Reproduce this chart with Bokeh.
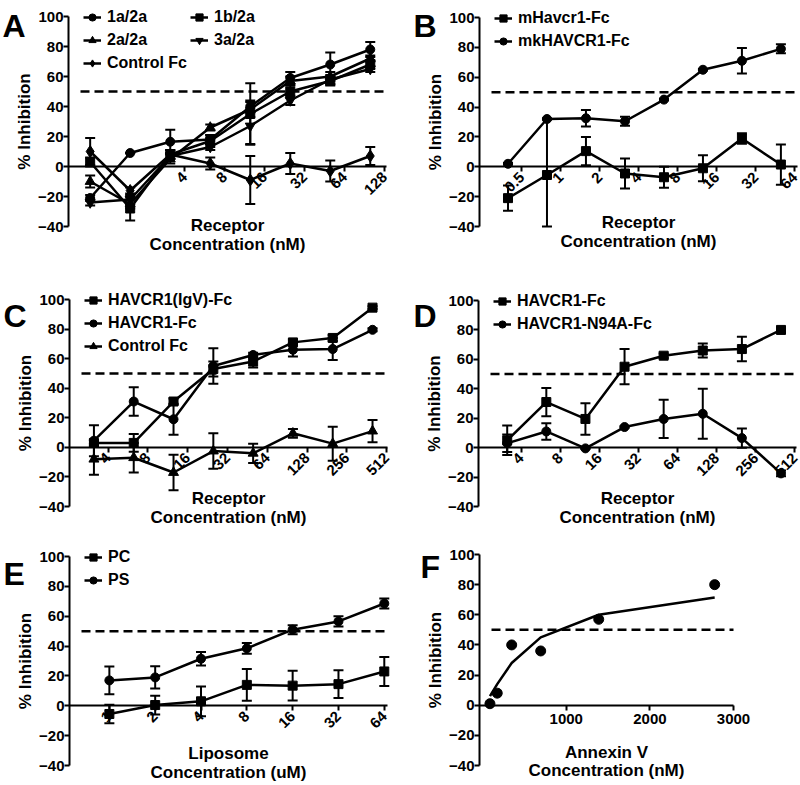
import math
from bokeh.plotting import figure
from bokeh.layouts import column, row
from bokeh.models import (Range1d, FixedTicker, Legend, LegendItem, Label,
                          CustomJSTickFormatter)
from bokeh.embed import file_html
from bokeh.resources import INLINE

FONT = "Liberation Sans"

# ---------------- data ----------------
# Panel A
a_conc = [0.78, 1.56, 3.125, 6.25, 12.5, 25, 50, 100]
a_1a2a = [-21, 9, 16.5, 18, 40, 59, 68, 78]
a_1a2a_err = [2, 0, 8, 3, 4, 4, 8, 5]
a_1b2a = [3, -28, 8, 17, 35, 50, 57, 68]
a_1b2a_err = [3, 8, 3, 4, 20.5, 4, 3, 3]
a_2a2a = [-10, -25, 5, 26, 38, 57, 60, 72]
a_2a2a_err = [4, 3, 3, 2, 5, 3, 3, 2]
a_3a2a = [-24, -22, 7, 13, 27, 44, 58, 65]
a_3a2a_err = [2, 3, 2, 2, 12, 3, 3, 2]
a_ctrl = [10, -16, 8, 2, -9, 2, -3, 7]
a_ctrl_err = [9, 2, 3, 4, 16, 7, 7, 6]
a_ticks = [4, 8, 16, 32, 64, 128]

# Panel B
b_conc = [0.39, 0.78, 1.56, 3.125, 6.25, 12.5, 25, 50]
b_mhav = [-21, -5.5, 10.5, -4.5, -7, -1, 19, 1.5]
b_mhav_err_lo = [8.5, 34.5, 9.5, 10, 7, 8.7, 3.5, 13.5]
b_mhav_err_hi = [8.5, 37.5, 9.5, 10, 7, 8.7, 3.5, 13.5]
b_mkhav = [2, 32, 32.5, 30.5, 45, 65, 71, 79]
b_mkhav_err = [0.5, 0.5, 5.5, 3, 0.5, 0.5, 8.5, 3]
b_ticks = [0.5, 1, 2, 4, 8, 16, 32, 64]

# Panel C
c_conc = [3.125, 6.25, 12.5, 25, 50, 100, 200, 400]
c_igv = [3, 3, 31, 53, 58, 71, 74, 94.5]
c_igv_err = [2, 6, 2, 5, 4, 2, 2, 1]
c_hav = [4.5, 31, 19, 55, 62.5, 66, 66.5, 79.5]
c_hav_err = [10.5, 9.6, 10.5, 12, 1.5, 4.5, 7.5, 1]
c_ctrl = [-8, -7, -17, -2.5, -4, 9.5, 2.5, 11]
c_ctrl_err = [10.5, 10, 12, 12, 6.5, 3, 11.5, 7.5]
c_ticks = [4, 8, 16, 32, 64, 128, 256, 512]

# Panel D
d_conc = [3.125, 6.25, 12.5, 25, 50, 100, 200, 400]
d_hav = [5, 31, 19.5, 55, 62.5, 66, 67, 80]
d_hav_err = [10, 9.6, 10.7, 12, 1.5, 4.7, 8.3, 1]
d_n94a = [3, 11, -0.5, 14, 19.5, 23, 6.5, -17.5]
d_n94a_err = [6, 5.6, 0.5, 0.5, 13, 17, 6.5, 2]
d_ticks = [4, 8, 16, 32, 64, 128, 256, 512]

# Panel E
e_conc = [1, 2, 4, 8, 16, 32, 64]
e_pc = [-5.5, 0.5, 3, 14, 13.5, 14.5, 23]
e_pc_err = [6.2, 6.3, 10, 10.7, 10, 9.3, 9.7]
e_ps = [17, 19, 31.5, 38.5, 51, 56.5, 68.5]
e_ps_err = [9.3, 7.5, 4.5, 3.6, 3, 3.4, 3.4]
e_ticks = [1, 2, 4, 8, 16, 32, 64]

# Panel F
f_conc = [87, 174, 347, 694, 1388, 2775]
f_inh = [1, 8, 40, 36, 57, 80]
f_fit = [6, 14, 28, 45, 60, 71.5]
f_ticks = [1000, 2000, 3000]

y_ticks = [-40, -20, 0, 20, 40, 60, 80, 100]
y_lo, y_hi = -40, 100
threshold = 50


class Panel:
    def __init__(self, W, H, L, fw, top, fh, xlo, xhi, log, xticks, xlabel, rotate,
                 xstand, letter, letter_x, letter_base):
        self.log = log
        self.L, self.fw, self.top, self.W, self.H = L, fw, top, W, H
        if log:
            a, b = math.log2(xlo), math.log2(xhi)
        else:
            a, b = xlo, xhi
        self.a, self.k = a, (b - a) / fw
        self.ky = (y_hi - y_lo) / fh
        p = figure(width=W, height=H, min_border=0,
                   x_axis_type="log" if log else "linear",
                   x_range=Range1d(self.px2x(0), self.px2x(W)),
                   y_range=Range1d(self.py2y(H), self.py2y(0)),
                   output_backend="svg", toolbar_location=None)
        p.outline_line_color = None
        p.grid.visible = False
        p.background_fill_color = "white"
        p.border_fill_color = "white"
        for ax in (p.xaxis[0], p.yaxis[0]):
            ax.axis_line_width = 2
            ax.axis_line_color = "black"
            ax.major_tick_line_width = 2
            ax.major_tick_line_color = "black"
            ax.major_tick_out = 5
            ax.major_tick_in = 0
            ax.minor_tick_line_color = None
            ax.major_label_text_font = FONT
            ax.major_label_text_font_style = "bold"
            ax.major_label_text_font_size = "15px"
            ax.major_label_text_color = "black"
            ax.axis_label_text_font = FONT
            ax.axis_label_text_font_style = "bold"
            ax.axis_label_text_font_size = "17px"
            ax.axis_label_text_color = "black"
        ya = p.yaxis[0]
        ya.fixed_location = xlo
        ya.bounds = (y_lo, y_hi)
        ya.ticker = FixedTicker(ticks=y_ticks)
        ya.axis_label = "% Inhibition"
        ya.major_label_standoff = 0
        ya.axis_label_standoff = 1
        xa = p.xaxis[0]
        xa.fixed_location = 0
        xa.bounds = (xlo, xhi)
        xa.ticker = FixedTicker(ticks=xticks)
        if log:
            xa.formatter = CustomJSTickFormatter(code="return String(tick)")
        if rotate:
            xa.major_label_orientation = math.pi / 4
            xa.major_label_standoff = 3
        else:
            xa.major_label_standoff = 4
        xa.axis_label_standoff = xstand
        xa.axis_label = xlabel
        xa.axis_label_text_line_height = 0.98
        # 50 % threshold line
        p.segment(x0=[self.px2x(L + 12)], y0=[threshold], x1=[xhi], y1=[threshold],
                  line_color="black", line_width=2.5, line_dash="9 5")
        # panel letter
        p.add_layout(Label(x=self.px2x(letter_x), y=self.py2y(letter_base), text=letter,
                           text_font=FONT, text_font_style="bold", text_font_size="32px",
                           text_baseline="alphabetic", text_align="left",
                           text_color="black"))
        self.p = p

    def px2x(self, px):
        v = self.a + (px - self.L) * self.k
        return 2 ** v if self.log else v

    def py2y(self, py):
        return y_hi - (py - self.top) * self.ky

    def series(self, x, y, err_lo, err_hi, marker, size):
        p = self.p
        rl = p.line(x, y, line_width=2.5, line_color="black")
        rp = p.scatter(x, y, marker=marker, size=size, fill_color="black",
                       line_color="black")
        if err_lo is not None:
            lo = [v - e for v, e in zip(y, err_lo)]
            hi = [v + e for v, e in zip(y, err_hi)]
            p.segment(x0=x, y0=lo, x1=x, y1=hi, line_width=2, line_color="black")
            p.scatter(x, lo, marker="dash", size=10, line_width=2, line_color="black")
            p.scatter(x, hi, marker="dash", size=10, line_width=2, line_color="black")
        return [rl, rp]

    def legend(self, items, ncols, nrows):
        Hl = nrows * 20 + (nrows - 1) * 3
        top_px = self.top + 1 - 10
        leg = Legend(items=[LegendItem(label=l, renderers=r) for l, r in items],
                     location=(self.L + 15, self.H - top_px - Hl),
                     orientation="horizontal", ncols=ncols,
                     glyph_width=18, glyph_height=20, label_height=20, spacing=3,
                     padding=0, margin=0, label_standoff=6,
                     background_fill_alpha=0, border_line_alpha=0,
                     label_text_font=FONT, label_text_font_style="bold",
                     label_text_font_size="16px", label_text_color="black")
        self.p.add_layout(leg)


rec_label = "Receptor\nConcentration (nM)"

# row 1: canvas height 275
A = Panel(400, 275, 68, 318, 16, 210, 2 ** -0.9, 2 ** 7.05, True, a_ticks, rec_label,
          True, 14, "A", 2, 25)
A.legend([("1a/2a", A.series(a_conc, a_1a2a, a_1a2a_err, a_1a2a_err, "circle", 9)),
          ("1b/2a", A.series(a_conc, a_1b2a, a_1b2a_err, a_1b2a_err, "square", 9)),
          ("2a/2a", A.series(a_conc, a_2a2a, a_2a2a_err, a_2a2a_err, "triangle", 10)),
          ("3a/2a", A.series(a_conc, a_3a2a, a_3a2a_err, a_3a2a_err, "inverted_triangle", 10)),
          ("Control Fc", A.series(a_conc, a_ctrl, a_ctrl_err, a_ctrl_err, "diamond", 12))],
         2, 3)

B = Panel(400, 275, 79, 318, 17, 209, 2 ** -2.09, 2 ** 6.07, True, b_ticks, rec_label,
          True, 14, "B", 13, 25)
B.legend([("mHavcr1-Fc", B.series(b_conc, b_mhav, b_mhav_err_lo, b_mhav_err_hi, "square", 9)),
          ("mkHAVCR1-Fc", B.series(b_conc, b_mkhav, b_mkhav_err, b_mkhav_err, "circle", 9))],
         1, 2)

# row 2: canvas height 255
C = Panel(400, 255, 69, 318, 24, 207, 2 ** 1.03, 2 ** 9.02, True, c_ticks, rec_label,
          True, 6, "C", 3, 40)
C.legend([("HAVCR1(IgV)-Fc", C.series(c_conc, c_igv, c_igv_err, c_igv_err, "square", 9)),
          ("HAVCR1-Fc", C.series(c_conc, c_hav, c_hav_err, c_hav_err, "circle", 9)),
          ("Control Fc", C.series(c_conc, c_ctrl, c_ctrl_err, c_ctrl_err, "triangle", 10))],
         1, 3)

D = Panel(400, 255, 78, 318, 25, 206, 2 ** 0.91, 2 ** 9.04, True, d_ticks, rec_label,
          True, 6, "D", 13, 40)
D.legend([("HAVCR1-Fc", D.series(d_conc, d_hav, d_hav_err, d_hav_err, "square", 9)),
          ("HAVCR1-N94A-Fc", D.series(d_conc, d_n94a, d_n94a_err, d_n94a_err, "circle", 9))],
         1, 2)

# row 3: canvas height 254
E = Panel(400, 254, 69, 318, 26, 209, 2 ** -0.87, 2 ** 6.07, True, e_ticks,
          "Liposome\nConcentration (uM)", True, 9, "E", 3, 43)
E.legend([("PC", E.series(e_conc, e_pc, e_pc_err, e_pc_err, "square", 9)),
          ("PS", E.series(e_conc, e_ps, e_ps_err, e_ps_err, "circle", 9))],
         1, 2)

F = Panel(400, 254, 79, 254, 24, 211, -38, 3000, False, f_ticks,
          "Annexin V\nConcentration (nM)", False, 15, "F", 20, 36)
F.p.line(f_conc, f_fit, line_width=2.5, line_color="black")
F.p.scatter(f_conc, f_inh, marker="circle", size=10, fill_color="black", line_color="black")

layout = column(row(A.p, B.p), row(C.p, D.p), row(E.p, F.p))

open("out.html", "w").write(file_html(layout, INLINE))
